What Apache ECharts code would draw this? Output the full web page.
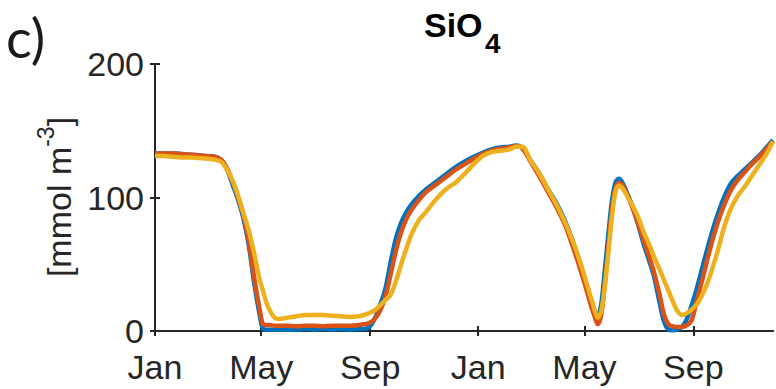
<!DOCTYPE html>
<html>
<head>
<meta charset="utf-8">
<script src="https://cdn.jsdelivr.net/npm/echarts@6/dist/echarts.min.js"></script>
<style>
html,body{margin:0;padding:0;background:#fff;}
#chart{width:776px;height:389px;}
</style>
</head>
<body>
<div id="chart"></div>
<script>
// Day of record (0 = 1 Jan of first year)
const days = [0,10,20,30,40,50,60,70,76,82,
  88,94,100,106,112,118,122,126,130,135,
  140,150,160,170,180,190,200,210,220,230,
  236,242,248,254,260,266,272,278,284,290,
  298,306,314,322,330,340,350,360,370,380,
  390,400,408,415,424,434,444,454,464,472,
  480,486,492,496,500,504,508,512,516,520,
  524,528,534,540,546,552,558,564,570,575,
  580,585,590,595,600,606,612,618,624,630,
  636,642,650,658,666,674,682,690,698];

const blueVals = [133,133,133,132.5,132,131.5,131,130,127,120,
  109,98,84,64,36,13,1.5,1,1,1,
  1,1,1,1.5,1,1.5,1,1.5,1,1.5,
  1.5,3,9,19,31,51,69,81,89,95,
  101,106,110,114,118,123,127,130.5,133.5,136,
  137.5,138,139,137,128,118,106,95,81,67,
  51,38,24,16,11,20,45,72,97,111,
  114,111,102,92,79,65,53,40,21,7,
  1,0.5,1,3,8,19,32,47,62,76,
  88,99,110,116,121,126,131,137,143];

const orangeVals = [133,133,133,132.5,132,131.5,131,130,127.5,121,
  111,100,87,67,40,17,5,4.5,4.5,4,
  4,4,3.5,4,4,3.5,4,4,4,4.5,
  5,6,9,15,25,42,60,74,84,91,
  98,104,108,112,116,121,125,129,132.5,135,
  136.5,137.5,138.5,137,127,116,104,92,78,63,
  47,34,20,12,5,12,35,63,90,107,
  111,109,101,91,80,68,56,43,27,12,
  5,3.5,3,3,4,8,23,38,54,69,
  82,93,105,113,119,125,130,136,142];

const yellowVals = [131,131,130.5,130,130,129.5,129,128,126,120,
  112,101,88,75,58,39,30,21,15,10,
  9,10,11,12,12,12,11.5,11,10.5,11,
  12,13.5,15.5,19,23,27,37,50,62,73,
  83,89,96,102,107,111.5,118,125,131,134,
  135,136,138,138,128,118,106,94,80,67,
  52,39,26,17,10,15,33,58,85,104,
  109,107,100,93,85,74,65,55,46,38,
  30,22,15,12,13,16,20,27,36,48,
  61,76,91,101,108,116,124,132,142];

const monthTicks = [0,120,243,365,485,608];
const monthLabels = ['Jan','May','Sep','Jan','May','Sep'];
const yTicks = [0,100,200];

const axisColor = '#262626';
const FONT = '"Liberation Sans", Arial, sans-serif';

function pairs(vals){ return days.map((d,i)=>[d, vals[i]]); }

const chart = echarts.init(document.getElementById('chart'), null, {renderer:'svg'});

const xBase = {
  type:'value', min:0, max:698,
  splitLine:{show:false},
  axisLine:{show:true, lineStyle:{color:axisColor, width:2}},
  axisTick:{show:true, inside:true, length:5, customValues:monthTicks, lineStyle:{color:axisColor, width:2}}
};
const yBase = {
  type:'value', min:0, max:200, interval:100,
  splitLine:{show:false},
  axisLine:{show:true, lineStyle:{color:axisColor, width:2}},
  axisTick:{show:true, inside:true, length:5, lineStyle:{color:axisColor, width:2}}
};

chart.setOption({
  animation:false,
  backgroundColor:'#fff',
  grid:{left:155, right:3, top:64, bottom:58, containLabel:false},
  xAxis:[
    Object.assign({}, xBase, {position:'bottom',
      axisLabel:{show:true, customValues:monthTicks, margin:19,
        color:axisColor, fontSize:34, fontFamily:FONT,
        formatter:function(v){ const i = monthTicks.indexOf(v); return i>=0 ? monthLabels[i] : ''; }}}),
    Object.assign({}, xBase, {position:'top', axisLabel:{show:false}})
  ],
  yAxis:[
    Object.assign({}, yBase, {position:'left',
      axisLabel:{show:true, margin:11, color:axisColor, fontSize:34, fontFamily:FONT,
        customValues:yTicks}}),
    Object.assign({}, yBase, {position:'right', axisLabel:{show:false}})
  ],
  graphic:[
    {type:'text', left:6, top:10, style:{text:'c)', font:'54px Lato, "Open Sans", sans-serif', fill:'#1a1a1a'}},
    {type:'text', x:424, y:8, style:{text:'SiO', font:'bold 34px '+FONT, fill:'#000'}},
    {type:'text', x:485, y:29, style:{text:'4', font:'bold 28px '+FONT, fill:'#000'}},
    {type:'text', x:55, y:197, rotation:Math.PI/2,
      style:{text:'{a|[mmol m}{b|-3}{a|]}', align:'center', verticalAlign:'middle',
        rich:{
          a:{font:'34px '+FONT, fill:axisColor, lineHeight:42, verticalAlign:'bottom'},
          b:{font:'23px '+FONT, fill:axisColor, lineHeight:42, verticalAlign:'top'}
        }}}
  ],
  series:[
    {name:'blue', type:'line', data:pairs(blueVals), showSymbol:false, smooth:0.3,
      lineStyle:{color:'#0072BD', width:4.5}, z:2},
    {name:'orange', type:'line', data:pairs(orangeVals), showSymbol:false, smooth:0.3,
      lineStyle:{color:'#D95319', width:4.5}, z:3},
    {name:'yellow', type:'line', data:pairs(yellowVals), showSymbol:false, smooth:0.3,
      lineStyle:{color:'#EDB120', width:4.5}, z:4}
  ]
});
</script>
</body>
</html>
